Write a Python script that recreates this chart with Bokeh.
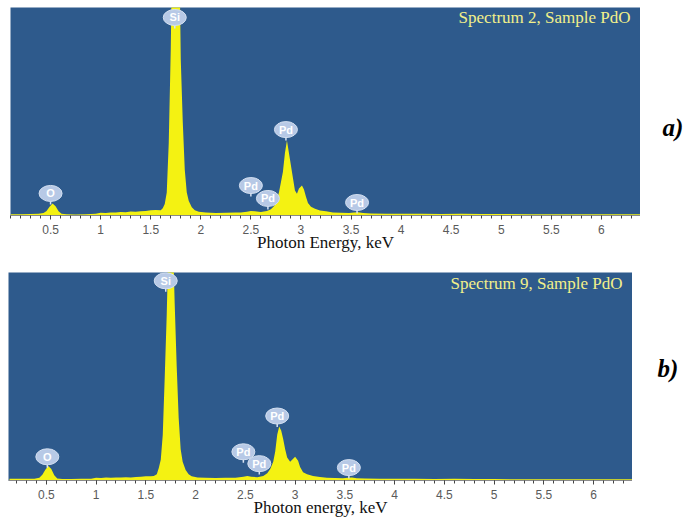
from bokeh.plotting import figure
from bokeh.layouts import column, row
from bokeh.models import FixedTicker, Label, Range1d
from bokeh.core.properties import value
from bokeh.embed import file_html
from bokeh.resources import INLINE

# ---------------- data ----------------
TICK_VALUES = [0.5, 1.0, 1.5, 2.0, 2.5, 3.0, 3.5, 4.0, 4.5, 5.0, 5.5, 6.0]
TICK_LABELS = ["0.5", "1", "1.5", "2", "2.5", "3", "3.5", "4", "4.5", "5", "5.5", "6"]
MINOR_TICKS = [round(0.1 * k, 1) for k in range(1, 64)]

# Spectrum 2 (panel a): energy (keV) and intensity (% of plot height)
E_A = [0.10, 0.20, 0.30, 0.38, 0.43, 0.46, 0.49, 0.52, 0.55, 0.58, 0.61, 0.66, 0.75, 0.85, 0.95,
       1.00, 1.05, 1.10, 1.15, 1.20, 1.25, 1.30, 1.35, 1.40, 1.45, 1.50, 1.55, 1.60, 1.62, 1.64,
       1.66, 1.68, 1.70, 1.72, 1.75, 1.78, 1.80, 1.82, 1.84, 1.86, 1.88, 1.91, 1.94, 1.98, 2.05,
       2.15, 2.25, 2.35, 2.40, 2.46, 2.50, 2.54, 2.60, 2.66, 2.70, 2.73, 2.75, 2.78, 2.80, 2.82,
       2.84, 2.86, 2.88, 2.90, 2.92, 2.94, 2.96, 2.98, 3.01, 3.03, 3.05, 3.07, 3.10, 3.14, 3.19,
       3.25, 3.32, 3.40, 3.48, 3.53, 3.57, 3.62, 3.70, 3.85, 4.00, 4.20, 4.40, 4.60, 4.80, 5.00,
       5.30, 5.60, 5.90, 6.20, 6.40]
I_A = [0.6, 0.6, 0.7, 0.8, 1.2, 2.2, 4.2, 5.8, 4.5, 2.0, 0.9, 0.6, 0.5, 0.6, 0.8,
       1.3, 1.2, 1.5, 1.4, 1.7, 1.6, 1.9, 1.8, 2.1, 2.2, 2.5, 2.6, 2.5, 3.5, 5.5,
       11, 35, 80, 150, 200, 150, 75, 45, 22, 11, 7, 4, 2.5, 1.8, 1.4,
       1.2, 1.3, 1.4, 1.4, 1.8, 2.2, 2.0, 1.7, 2.2, 3.0, 4.5, 6, 11, 16, 21,
       30, 36, 30, 24, 18, 12, 10.5, 13, 14.4, 12.5, 9, 6, 4.2, 3.3, 2.4,
       2.0, 1.5, 1.3, 1.2, 1.4, 1.6, 1.2, 1.0, 0.9, 0.8, 0.9, 0.7, 0.8, 0.7, 0.7,
       0.6, 0.6, 0.6, 0.6, 0.6]

# Spectrum 9 (panel b)
E_B = [0.13, 0.20, 0.30, 0.38, 0.43, 0.46, 0.49, 0.52, 0.55, 0.58, 0.61, 0.66, 0.75, 0.85, 0.95,
       1.00, 1.05, 1.10, 1.15, 1.20, 1.25, 1.30, 1.35, 1.40, 1.45, 1.50, 1.55, 1.58, 1.61, 1.63,
       1.65, 1.67, 1.69, 1.71, 1.73, 1.75, 1.77, 1.79, 1.81, 1.83, 1.85, 1.87, 1.90, 1.93, 1.96,
       2.02, 2.10, 2.20, 2.30, 2.40, 2.48, 2.52, 2.56, 2.62, 2.68, 2.72, 2.75, 2.78, 2.80, 2.82,
       2.84, 2.86, 2.88, 2.90, 2.92, 2.95, 2.98, 3.00, 3.03, 3.05, 3.08, 3.12, 3.18, 3.25, 3.32,
       3.40, 3.48, 3.53, 3.57, 3.62, 3.70, 3.85, 4.00, 4.20, 4.40, 4.60, 4.80, 5.00, 5.30, 5.60,
       5.90, 6.20, 6.40]
I_B = [0.8, 0.8, 0.8, 0.9, 1.3, 2.8, 5.2, 7.0, 5.5, 2.5, 1.0, 0.7, 0.7, 0.8, 0.9,
       1.3, 1.2, 1.4, 1.3, 1.5, 1.4, 1.6, 1.5, 1.7, 1.8, 2.0, 2.1, 2.2, 3, 6,
       10, 22, 50, 80, 120, 160, 120, 85, 55, 30, 15, 9, 5, 3, 2,
       1.5, 1.3, 1.2, 1.3, 1.3, 1.8, 2.2, 1.8, 1.6, 2.2, 3.5, 5.5, 9, 14, 22,
       26, 24, 20, 15, 11, 9, 10.5, 11.4, 9.5, 6.5, 4, 3, 2.2, 1.7, 1.3,
       1.2, 1.1, 1.3, 1.5, 1.1, 1.0, 0.9, 0.8, 0.9, 0.7, 0.8, 0.7, 0.7, 0.6, 0.6,
       0.6, 0.6, 0.6]

# peak marker badges
LAB_TEXT = ["O", "Si", "Pd", "Pd", "Pd", "Pd"]
LAB_E_A = [0.50, 1.74, 2.85, 2.50, 2.67, 3.56]
LAB_Y_A = [10.6, 95.2, 41.3, 14.4, 8.2, 6.25]
LAB_E_B = [0.51, 1.70, 2.82, 2.48, 2.64, 3.54]
LAB_Y_B = [11.4, 96.0, 31.0, 13.8, 8.1, 6.2]

BLUE = "#2e5a8c"
YELLOW = "#f4f212"
BADGE = "#b7c9e6"


def make_panel(E, I, lab_e, lab_y, title, xlabel, xr, width, height, borders, title_pos):
    left, right, top, bottom = borders
    frame_h = height - top - bottom
    ppu = frame_h / 100.0
    p = figure(width=width, height=height, x_range=Range1d(*xr), y_range=Range1d(0, 100),
               output_backend="svg", toolbar_location=None, y_axis_location=None,
               min_border_left=left, min_border_right=right, min_border_top=top,
               min_border_bottom=bottom)
    p.background_fill_color = BLUE
    p.border_fill_color = "white"
    p.outline_line_color = None
    p.grid.visible = False

    ax = p.xaxis[0]
    ax.ticker = FixedTicker(ticks=TICK_VALUES, minor_ticks=MINOR_TICKS)
    ax.major_label_overrides = dict(zip(TICK_VALUES, TICK_LABELS))
    ax.axis_line_color = "#8a8a8a"
    ax.major_tick_line_color = "#444444"
    ax.minor_tick_line_color = "#444444"
    ax.major_tick_in = 0
    ax.major_tick_out = 4
    ax.minor_tick_in = 0
    ax.minor_tick_out = 3
    ax.major_label_standoff = 5
    ax.major_label_text_font = "Liberation Sans"
    ax.major_label_text_font_size = "12px"
    ax.major_label_text_color = "#5a5a5a"
    ax.axis_label = xlabel
    ax.axis_label_text_font = "Liberation Serif"
    ax.axis_label_text_font_size = "17px"
    ax.axis_label_text_font_style = "normal"
    ax.axis_label_text_color = "#111111"
    ax.axis_label_standoff = -4

    p.varea(x=E, y1=0, y2=I, fill_color=YELLOW, fill_alpha=1.0)

    stem_bottom = [y - 11.0 / ppu for y in lab_y]
    p.segment(x0=lab_e, y0=lab_y, x1=lab_e, y1=stem_bottom, line_color="#d8e3f3", line_width=1.5)
    p.ellipse(x=lab_e, y=lab_y, width=23, height=16, width_units="screen", height_units="screen",
              fill_color=BADGE, line_color="#d3dff0", line_width=1)
    p.text(x=lab_e, y=lab_y, text=LAB_TEXT, text_font=value("Liberation Sans"),
           text_font_size="11px", text_font_style="bold", text_color="white",
           text_align="center", text_baseline="middle")

    p.add_layout(Label(x=title_pos[0], y=title_pos[1], x_units="screen", y_units="screen",
                       text=title, text_font="Liberation Serif", text_font_size="17px",
                       text_color="#f2f08a", text_align="right", text_baseline="middle"))
    return p


def make_tag(tag, width, height, tx, ty):
    t = figure(width=width, height=height, x_range=Range1d(0, width), y_range=Range1d(0, height),
               output_backend="svg", toolbar_location=None, x_axis_location=None,
               y_axis_location=None, min_border=0)
    t.outline_line_color = None
    t.grid.visible = False
    t.background_fill_color = "white"
    t.border_fill_color = "white"
    t.text(x=[tx], y=[ty], text=[tag], text_font=value("Liberation Serif"),
           text_font_size="25px", text_font_style="bold italic", text_color="black",
           text_align="left", text_baseline="middle")
    return t


pa = make_panel(E_A, I_A, LAB_E_A, LAB_Y_A, "Spectrum 2, Sample PdO",
                "Photon Energy, keV", (0.10, 6.39), 640, 260, (10, 0, 7, 45), (620, 198))
ta = make_tag("a)", 52, 260, 22, 110)
pb = make_panel(E_B, I_B, LAB_E_B, LAB_Y_B, "Spectrum 9, Sample PdO",
                "Photon energy, keV", (0.12, 6.39), 632, 259, (8, 0, 12, 37), (614, 197))
tb = make_tag("b)", 60, 259, 25, 139)

layout = column(row(pa, ta, spacing=0), row(pb, tb, spacing=0), spacing=0)
open("out.html", "w").write(file_html(layout, INLINE))
